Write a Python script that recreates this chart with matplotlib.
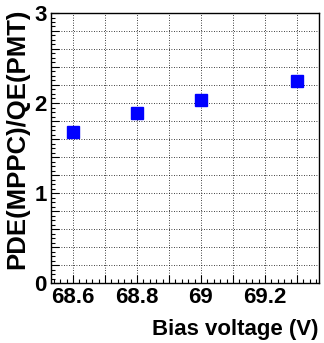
import matplotlib
matplotlib.use("Agg")
import matplotlib.pyplot as plt
from matplotlib.ticker import MultipleLocator, FuncFormatter

bias_voltage = [68.6, 68.8, 69.0, 69.3]
pde_ratio = [1.68, 1.89, 2.03, 2.25]
x_tick_labels = [68.6, 68.8, 69.0, 69.2]
y_tick_labels = [0, 1, 2, 3]

plt.rcParams['font.family'] = ['Liberation Sans', 'DejaVu Sans']
plt.rcParams['font.weight'] = 'bold'

fig = plt.figure(figsize=(3.24, 3.43), dpi=100)
ax = fig.add_axes([51/324, 1-283/343, 268/324, 270/343])

ax.plot(bias_voltage, pde_ratio, linestyle='none', marker='s', markersize=8,
        color='#0000ff', markeredgecolor='#0000ff', zorder=5)

ax.set_xlim(68.531, 69.369)
ax.set_ylim(0, 3)

ax.xaxis.set_major_locator(MultipleLocator(0.1))
ax.xaxis.set_minor_locator(MultipleLocator(0.02))
ax.yaxis.set_major_locator(MultipleLocator(0.2))
ax.yaxis.set_minor_locator(MultipleLocator(0.05))

def xfmt(v, pos):
    for t in x_tick_labels:
        if abs(v - t) < 1e-6:
            return ('%g' % t)
    return ''

def yfmt(v, pos):
    for t in y_tick_labels:
        if abs(v - t) < 1e-6:
            return '%d' % t
    return ''

ax.xaxis.set_major_formatter(FuncFormatter(xfmt))
ax.yaxis.set_major_formatter(FuncFormatter(yfmt))

ax.tick_params(which='both', direction='in', top=False, right=False, width=0.8, color='black')
ax.tick_params(which='major', length=5.8)
ax.tick_params(which='minor', length=2.9)
ax.tick_params(axis='x', which='major', labelsize=16, pad=3)
ax.tick_params(axis='y', which='major', labelsize=16, pad=3)
for lab in ax.get_xticklabels() + ax.get_yticklabels():
    lab.set_fontweight('bold')

ax.grid(True, which='major', linestyle=(0, (1, 2)), color='black', linewidth=0.6)
ax.set_axisbelow(True)
for s in ax.spines.values():
    s.set_linewidth(1.0)
    s.set_color('black')

fig.text(318/324, 1-335/343, 'Bias voltage (V)', ha='right', va='baseline',
         fontsize=16, fontweight='bold')
fig.text(17/324, 1-9/343, 'PDE(MPPC)/QE(PMT)', ha='center', va='top',
         rotation=90, fontsize=18.5, fontweight='bold')

fig.savefig('out.png', dpi=100)
